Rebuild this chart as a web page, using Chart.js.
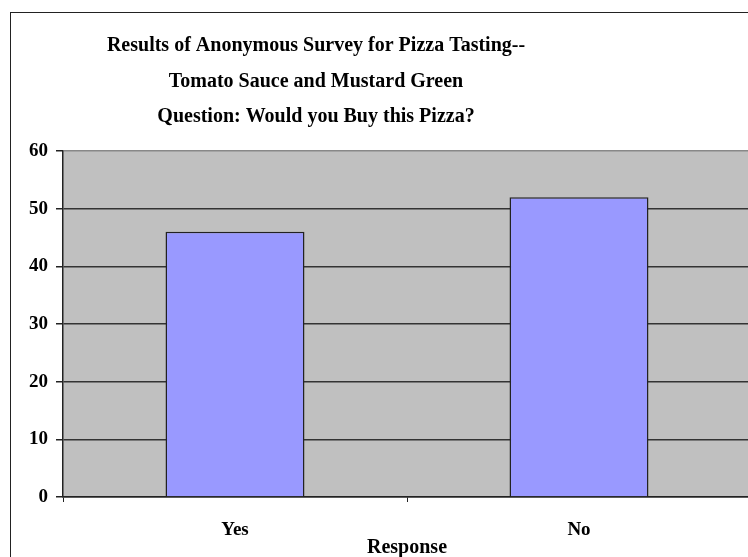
<!DOCTYPE html>
<html>
<head>
<meta charset="utf-8">
<script src="https://cdn.jsdelivr.net/npm/chart.js@4/dist/chart.umd.min.js"></script>
<style>
  html, body { margin: 0; padding: 0; background: #fff; overflow: hidden; }
  #wrap { position: absolute; left: 0; top: 0; width: 760px; height: 560px; }
</style>
</head>
<body>
<div id="wrap"><canvas id="chart" width="760" height="560"></canvas></div>
<script>
// ── Data ──────────────────────────────────────────────────────────────────────
const categories  = ['Yes', 'No'];
const responses   = [46, 52];
const titleLines  = [
  'Results of Anonymous Survey for Pizza Tasting--',
  'Tomato Sauce and Mustard Green',
  'Question: Would you Buy this Pizza?',
];
const axisTitle   = 'Response';

const SERIF = '"Liberation Serif", "Times New Roman", serif';

// ── Frame, plot background and title ─────────────────────────────────────────
const excelLook = {
  id: 'excelLook',
  beforeDraw(chart) {
    const { ctx, chartArea: a } = chart;
    ctx.save();
    ctx.fillStyle = '#c0c0c0';
    ctx.fillRect(a.left, a.top, a.right - a.left, a.bottom - a.top);
    ctx.strokeStyle = '#222';
    ctx.lineWidth = 1;
    ctx.strokeRect(10.5, 12.5, 900, 700);
    ctx.restore();
  },
  afterDraw(chart) {
    const { ctx } = chart;
    ctx.save();
    ctx.fillStyle = '#000';
    ctx.font = 'bold 20px ' + SERIF;
    ctx.textAlign = 'center';
    ctx.textBaseline = 'middle';
    const ys = [46, 82, 117];
    titleLines.forEach((t, i) => ctx.fillText(t, 316, ys[i]));
    ctx.restore();
  },
};

new Chart(document.getElementById('chart'), {
  type: 'bar',
  data: {
    labels: categories,
    datasets: [{
      data           : responses,
      backgroundColor: '#9999ff',
      borderColor    : '#222',
      borderWidth    : 1.5,
      barPercentage  : 0.404,
      categoryPercentage: 1,
    }],
  },
  options: {
    responsive: false,
    animation : false,
    layout    : { padding: { left: 10, right: 9, top: 151, bottom: 0 } },
    plugins   : { legend: { display: false }, tooltip: { enabled: false }, title: { display: false } },
    scales    : {
      y: {
        min: 0, max: 60,
        ticks: { stepSize: 10, color: '#000', padding: 8, font: { family: SERIF, size: 19, weight: 'bold' } },
        grid : {
          color: c => (c.tick && c.tick.value === 60) ? '#888' : '#333',
          lineWidth: 1.5,
          tickLength: 7,
          tickColor: '#222',
        },
        border: { color: '#222', width: 1.5 },
        afterFit(s) { s.width = 53; },
      },
      x: {
        offset: true,
        ticks: { color: '#000', padding: 17, font: { family: SERIF, size: 19, weight: 'bold' } },
        grid : { offset: true, drawOnChartArea: false, tickLength: 5, tickColor: '#222' },
        border: { color: '#222', width: 1.5 },
        title: {
          display: true, text: axisTitle, color: '#000', padding: { top: 0, bottom: 0 },
          font: { family: SERIF, size: 20, weight: 'bold' },
        },
        afterFit(s) { s.height = 63; },
      },
    },
  },
  plugins: [excelLook],
});
</script>
</body>
</html>
